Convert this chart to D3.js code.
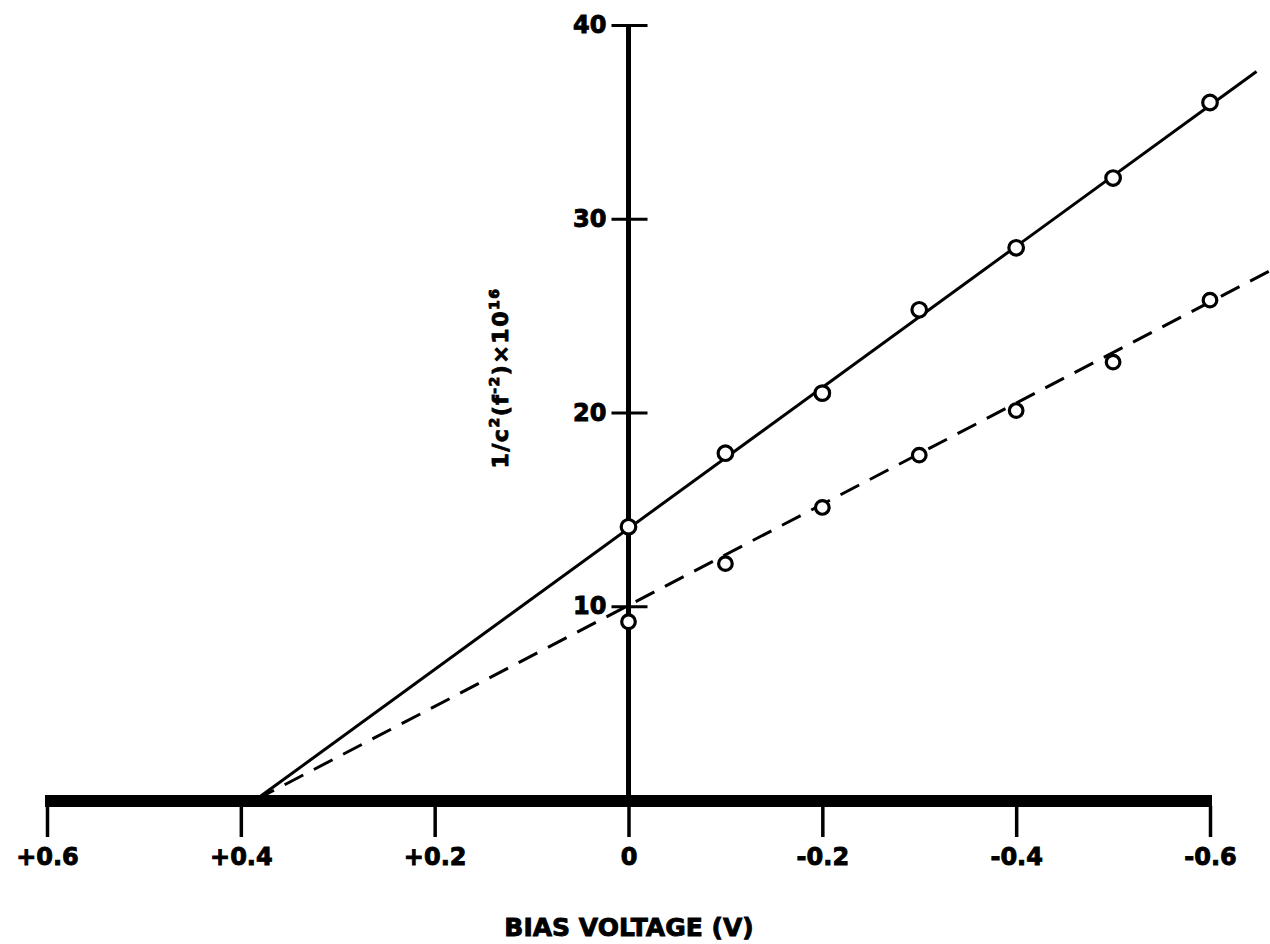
<!DOCTYPE html>
<html>
<head>
<meta charset="utf-8">
<script src="https://cdn.jsdelivr.net/npm/d3@7"></script>
<style>
  body { margin: 0; background: #fff; }
  text { font-family: "DejaVu Sans", sans-serif; font-weight: bold; fill: #000; stroke: #000; stroke-width: 0.9px; }
</style>
</head>
<body>
<script>
// bias voltage positions (V)
var voltage = [0, -0.1, -0.2, -0.3, -0.4, -0.5, -0.6];
// 1/C^2 values
var solidValues = [14.1, 17.9, 21.0, 25.3, 28.5, 32.1, 36.0];
var dashedValues = [9.2, 12.2, 15.1, 17.8, 20.1, 22.6, 25.8];
// straight fit lines (endpoints)
var solidFit = [[0.385, 0], [-0.648, 37.6]];
var dashedFit = [[0.385, 0], [-0.665, 27.4]];
// ticks
var xTicks = [0.6, 0.4, 0.2, 0, -0.2, -0.4, -0.6];
var xTickLabels = ["+0.6", "+0.4", "+0.2", "0", "-0.2", "-0.4", "-0.6"];
var yTicks = [10, 20, 30, 40];

var width = 1270, height = 944;

var svg = d3.select("body").append("svg")
    .attr("width", width)
    .attr("height", height);

// set the ranges
var x = d3.scaleLinear().domain([0.6, -0.6]).range([47, 1210]);
var y = d3.scaleLinear().domain([0, 40]).range([800, 25]);

// fit lines
var line = d3.line()
    .x(function (d) { return x(d[0]); })
    .y(function (d) { return y(d[1]); });

svg.append("path")
    .datum(solidFit)
    .attr("d", line)
    .attr("fill", "none")
    .attr("stroke", "#000")
    .attr("stroke-width", 3);

svg.append("path")
    .datum(dashedFit)
    .attr("d", line)
    .attr("fill", "none")
    .attr("stroke", "#000")
    .attr("stroke-width", 3)
    .attr("stroke-dasharray", "21,12");

// y axis line
svg.append("line")
    .attr("x1", x(0)).attr("x2", x(0))
    .attr("y1", y(40)).attr("y2", y(0))
    .attr("stroke", "#000")
    .attr("stroke-width", 5);

// y axis ticks and labels
var yAxis = svg.append("g")
    .attr("transform", "translate(" + x(0) + ",0)")
    .call(d3.axisLeft(y).tickValues(yTicks).tickSize(0).tickPadding(22));
yAxis.select(".domain").remove();
yAxis.selectAll(".tick text")
    .attr("font-size", 24)
    .attr("font-family", "DejaVu Sans")
    .attr("font-weight", "bold");
yAxis.selectAll(".tick").append("line")
    .attr("x1", -17).attr("x2", 19)
    .attr("stroke", "#000")
    .attr("stroke-width", 3);

// thick x axis bar
svg.append("line")
    .attr("x1", x(0.6) - 2).attr("x2", x(-0.6) + 2)
    .attr("y1", 801).attr("y2", 801)
    .attr("stroke", "#000")
    .attr("stroke-width", 12);

var xAxis = svg.append("g")
    .attr("transform", "translate(0,806)")
    .call(d3.axisBottom(x)
        .tickValues(xTicks)
        .tickSize(31)
        .tickPadding(11)
        .tickFormat(function (d, i) { return xTickLabels[i]; }));
xAxis.select(".domain").remove();
xAxis.selectAll(".tick line")
    .attr("stroke", "#000")
    .attr("stroke-width", 3.5);
xAxis.selectAll(".tick text")
    .attr("font-size", 24)
    .attr("font-family", "DejaVu Sans")
    .attr("font-weight", "bold");

// data points
function drawPoints(vals, r) {
    svg.append("g").selectAll("circle")
        .data(vals)
        .enter().append("circle")
        .attr("cx", function (d, i) { return x(voltage[i]); })
        .attr("cy", function (d) { return y(d); })
        .attr("r", r)
        .attr("fill", "#fff")
        .attr("stroke", "#000")
        .attr("stroke-width", 3.2);
}
drawPoints(solidValues, 7.3);
drawPoints(dashedValues, 6.8);

// axis titles
svg.append("text")
    .attr("x", 629)
    .attr("y", 936)
    .attr("text-anchor", "middle")
    .attr("font-size", 25)
    .text("BIAS VOLTAGE (V)");

var yTitle = svg.append("text")
    .attr("transform", "translate(508,378) rotate(-90)")
    .attr("text-anchor", "middle")
    .attr("font-size", 22)
    .attr("letter-spacing", 1.5);
yTitle.append("tspan").text("1/c");
yTitle.append("tspan").attr("font-size", 14).attr("dy", -9).text("2");
yTitle.append("tspan").attr("dy", 9).text("(f");
yTitle.append("tspan").attr("font-size", 14).attr("dy", -9).text("-2");
yTitle.append("tspan").attr("dy", 9).text(")×10");
yTitle.append("tspan").attr("font-size", 14).attr("dy", -9).text("16");
</script>
</body>
</html>
